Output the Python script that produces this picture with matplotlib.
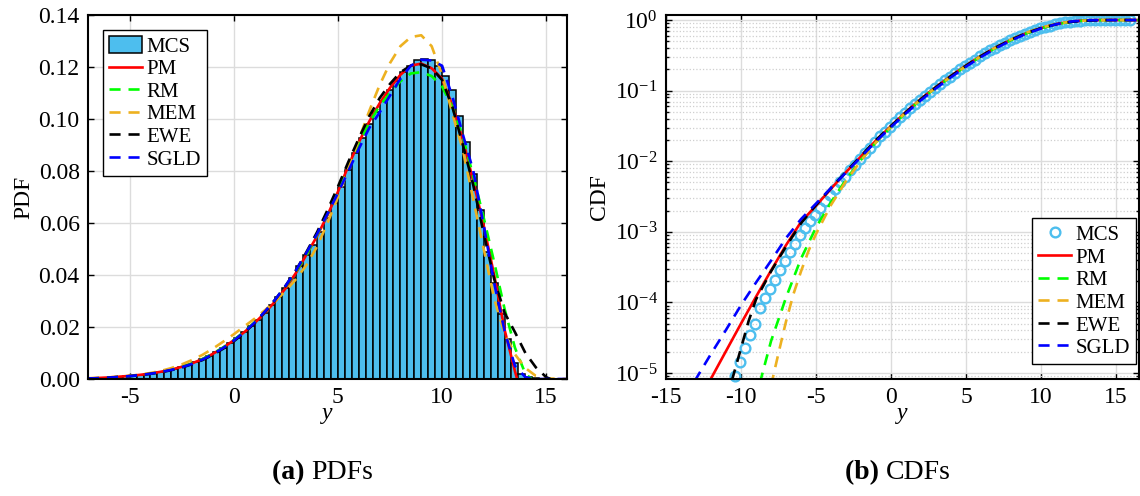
import numpy as np
import matplotlib.pyplot as plt
from matplotlib.ticker import LogLocator, NullFormatter, FormatStrFormatter

plt.rcParams['font.family'] = 'Liberation Serif'
plt.rcParams['mathtext.fontset'] = 'custom'
plt.rcParams['mathtext.rm'] = 'Liberation Serif'
plt.rcParams['mathtext.it'] = 'Liberation Serif:italic'
plt.rcParams['mathtext.bf'] = 'Liberation Serif:bold'
plt.rcParams['axes.unicode_minus'] = False

# ---- (a) PDF data ----
# MCS histogram, bins of width 1/3 starting at y = -7
hist_start = -7.0
hist_width = 1.0 / 3.0
mcs_pdf = [0.0002, 0.0004, 0.0005, 0.0007, 0.0009, 0.0011, 0.0013, 0.0016, 0.0019, 0.0023,
           0.0028, 0.0033, 0.0040, 0.0047, 0.0055, 0.0066, 0.0077, 0.0090, 0.0105, 0.0121,
           0.0139, 0.0159, 0.0180, 0.0203, 0.0228, 0.0255, 0.0284, 0.0316, 0.0350, 0.0390,
           0.0433, 0.0478, 0.0515, 0.0565, 0.0618, 0.0675, 0.0740, 0.0805, 0.0868, 0.0925,
           0.0980, 0.1028, 0.1070, 0.1112, 0.1148, 0.1180, 0.1205, 0.1225, 0.1232, 0.1225,
           0.1205, 0.1165, 0.1110, 0.1010, 0.0910, 0.0790, 0.0650, 0.0490, 0.0370, 0.0250,
           0.0153, 0.0060, 0.0020, 0.0008, 0.0003, 0.0001]

pdf_x = [-7, -6.5, -6, -5.5, -5, -4.5, -4, -3.5, -3, -2.5, -2, -1.5, -1, -0.5, 0, 0.5, 1, 1.5,
         2, 2.5, 3, 3.5, 4, 4.5, 5, 5.5, 6, 6.5, 7, 7.5, 8, 8.5, 9, 9.5, 10, 10.5, 11, 11.5,
         12, 12.5, 13, 13.5]

pm_pdf = [0.0002, 0.0004, 0.0006, 0.0009, 0.0012, 0.0016, 0.0021, 0.0028, 0.0036, 0.0047,
          0.0060, 0.0077, 0.0097, 0.0121, 0.0149, 0.0180, 0.0215, 0.0255, 0.0300, 0.0350,
          0.0410, 0.0480, 0.0550, 0.0630, 0.0720, 0.0820, 0.0910, 0.0990, 0.1060, 0.1120,
          0.1170, 0.1205, 0.1213, 0.1195, 0.1155, 0.1050, 0.0920, 0.0760, 0.0590, 0.0400,
          0.0190, 0.0030]
pm_pdf_end = (13.6, 0.0)

rm_pdf = [0.0002, 0.0003, 0.0005, 0.0008, 0.0011, 0.0015, 0.0020, 0.0027, 0.0036, 0.0047,
          0.0060, 0.0077, 0.0098, 0.0122, 0.0150, 0.0182, 0.0218, 0.0259, 0.0305, 0.0357,
          0.0415, 0.0480, 0.0555, 0.0635, 0.0720, 0.0815, 0.0905, 0.0985, 0.1050, 0.1100,
          0.1145, 0.1175, 0.1180, 0.1165, 0.1125, 0.1045, 0.0930, 0.0780, 0.0620, 0.0450,
          0.0270, 0.0120]
rm_pdf_tail_x = [14.0, 14.3]
rm_pdf_tail = [0.0020, 0.0]

mem_pdf = [0.0003, 0.0004, 0.0006, 0.0009, 0.0012, 0.0017, 0.0023, 0.0031, 0.0042, 0.0056,
           0.0073, 0.0093, 0.0117, 0.0144, 0.0172, 0.0202, 0.0232, 0.0265, 0.0300, 0.0340,
           0.0385, 0.0440, 0.0510, 0.0600, 0.0700, 0.0810, 0.0920, 0.1030, 0.1130, 0.1215,
           0.1280, 0.1315, 0.1322, 0.1280, 0.1170, 0.1020, 0.0880, 0.0690, 0.0500, 0.0310,
           0.0175, 0.0095]
mem_pdf_tail_x = [14.0, 14.5, 15.0, 16.0]
mem_pdf_tail = [0.0042, 0.0012, 0.0002, 0.0]

ewe_pdf = [0.0002, 0.0003, 0.0005, 0.0008, 0.0011, 0.0015, 0.0020, 0.0026, 0.0034, 0.0044,
           0.0057, 0.0073, 0.0093, 0.0117, 0.0145, 0.0178, 0.0215, 0.0258, 0.0306, 0.0360,
           0.0420, 0.0490, 0.0565, 0.0650, 0.0740, 0.0835, 0.0925, 0.1010, 0.1080, 0.1135,
           0.1180, 0.1205, 0.1210, 0.1195, 0.1150, 0.1045, 0.0900, 0.0745, 0.0560, 0.0385,
           0.0255, 0.0180]
ewe_pdf_tail_x = [14.0, 14.5, 15.0, 15.2]
ewe_pdf_tail = [0.0100, 0.0045, 0.0007, 0.0]

sgld_pdf = [0.0002, 0.0003, 0.0005, 0.0008, 0.0011, 0.0015, 0.0020, 0.0027, 0.0035, 0.0045,
            0.0058, 0.0075, 0.0095, 0.0120, 0.0148, 0.0180, 0.0217, 0.0260, 0.0307, 0.0360,
            0.0420, 0.0487, 0.0558, 0.0635, 0.0715, 0.0800, 0.0885, 0.0965, 0.1025, 0.1090,
            0.1155, 0.1205, 0.1228, 0.1225, 0.1205, 0.1085, 0.0940, 0.0800, 0.0590, 0.0370,
            0.0185, 0.0050]
sgld_pdf_tail_x = [14.0, 14.5, 16.0]
sgld_pdf_tail = [0.0007, 0.0, 0.0]

# ---- (b) CDF data ----
mcs_cdf_start = -10.4
mcs_cdf = [8.9e-6, 1.45e-5, 2.24e-5, 3.39e-5, 5.0e-5, 8.3e-5, 1.15e-4, 1.55e-4, 2.09e-4, 2.88e-4,
           3.89e-4, 5.13e-4, 6.76e-4, 8.9e-4, 1.12e-3, 1.41e-3, 1.74e-3, 2.14e-3, 2.69e-3, 3.31e-3,
           4.07e-3, 5.01e-3, 6.03e-3, 7.41e-3, 8.91e-3, 0.0107, 0.0129, 0.0155, 0.0186, 0.0224,
           0.0263, 0.0309, 0.0363, 0.0417, 0.0484, 0.0562, 0.0646, 0.0741, 0.0851, 0.0966,
           0.110, 0.124, 0.140, 0.158, 0.178, 0.200, 0.224, 0.248, 0.275, 0.305,
           0.339, 0.372, 0.406, 0.442, 0.479, 0.519, 0.558, 0.600, 0.640, 0.681,
           0.721, 0.762, 0.800, 0.836, 0.869, 0.900, 0.927, 0.951, 0.968, 0.982,
           0.991, 0.995, 0.998, 1.0, 1.0, 1.0, 1.0, 1.0, 1.0, 1.0]

pm_cdf_x = [-12.1, -11, -10, -9, -8, -7, -6, -5, -4, -3, -2, -1, 0, 1, 2, 3, 4, 5, 6, 7, 8, 9,
            10, 11, 12, 13, 14, 16.5]
pm_cdf = [7.6e-6, 2.04e-5, 5.0e-5, 1.2e-4, 2.82e-4, 6.46e-4, 1.38e-3, 2.34e-3, 4.07e-3, 7.0e-3,
          0.0117, 0.0197, 0.0316, 0.0501, 0.0767, 0.113, 0.162, 0.228, 0.311, 0.412, 0.526,
          0.649, 0.769, 0.876, 0.954, 0.993, 1.0, 1.0]

rm_cdf_x = [-8.75, -8, -7, -6, -5, -4, -3, -2, -1, 0, 1, 2, 3, 4, 5, 6, 7, 8, 9, 10, 11, 12,
            13, 14, 15, 16.5]
rm_cdf = [7.1e-6, 2.82e-5, 1.17e-4, 4.17e-4, 1.15e-3, 2.63e-3, 5.5e-3, 0.0105, 0.0186, 0.0305,
          0.0490, 0.075, 0.111, 0.158, 0.224, 0.307, 0.407, 0.521, 0.644, 0.764, 0.871, 0.946,
          0.986, 0.998, 1.0, 1.0]

mem_cdf_x = [-8.0, -7.5, -7, -6.5, -6, -5.5, -5, -4, -3, -2, -1, 0, 1, 2, 3, 4, 5, 6, 7, 8, 9,
             10, 11, 12, 13, 14, 15, 16.5]
mem_cdf = [6.6e-6, 1.91e-5, 5.37e-5, 1.32e-4, 2.75e-4, 5.37e-4, 9.33e-4, 2.40e-3, 5.25e-3,
           0.0102, 0.0186, 0.0309, 0.0495, 0.0759, 0.111, 0.158, 0.223, 0.308, 0.412, 0.533,
           0.661, 0.782, 0.881, 0.951, 0.984, 0.995, 1.0, 1.0]

ewe_cdf_x = [-10.6, -10, -9.5, -9, -8, -7, -6, -5, -4, -3, -2, -1, 0, 1, 2, 3, 4, 5, 6, 7, 8,
             9, 10, 11, 12, 13, 14, 15, 16.5]
ewe_cdf = [7.9e-6, 2.24e-5, 5.37e-5, 1.10e-4, 2.75e-4, 6.17e-4, 1.32e-3, 2.40e-3, 4.17e-3,
           7.08e-3, 0.0119, 0.020, 0.0316, 0.0495, 0.0759, 0.112, 0.161, 0.226, 0.310, 0.412,
           0.527, 0.652, 0.771, 0.871, 0.942, 0.979, 0.995, 1.0, 1.0]

sgld_cdf_x = [-13.1, -12, -11, -10, -9, -8, -7, -6, -5, -4, -3, -2, -1, 0, 1, 2, 3, 4, 5, 6, 7,
              8, 9, 10, 11, 12, 13, 14, 16.5]
sgld_cdf = [7.6e-6, 1.86e-5, 4.07e-5, 9.12e-5, 1.91e-4, 3.89e-4, 8.13e-4, 1.51e-3, 2.51e-3,
            4.17e-3, 6.92e-3, 0.0115, 0.0191, 0.0305, 0.0479, 0.0733, 0.108, 0.155, 0.219,
            0.300, 0.400, 0.514, 0.637, 0.760, 0.871, 0.953, 0.991, 1.0, 1.0]

labels = ['MCS', 'PM', 'RM', 'MEM', 'EWE', 'SGLD']
mcs_color = '#4DBEEE'
colors = {'PM': '#FF0000', 'RM': '#00FF00', 'MEM': '#EDB120', 'EWE': '#000000', 'SGLD': '#0000FF'}
dash = (4.2, 3.0)
lw = 1.9
fs = 17
leg_fs = 15
grid_c = '#DCDCDC'


def style_axes(ax):
    for s in ax.spines.values():
        s.set_linewidth(1.5)
    ax.tick_params(which='both', direction='in', top=True, right=True, labelsize=fs, width=1.0)
    ax.tick_params(which='major', length=4, pad=6)
    ax.tick_params(which='minor', length=2)
    ax.set_axisbelow(True)


def make_legend(ax, handles, **kw):
    leg = ax.legend(handles, labels, borderaxespad=0, fontsize=leg_fs, fancybox=False,
                    edgecolor='black', framealpha=1, handlelength=1.6, handleheight=0.85,
                    handletextpad=0.2, labelspacing=0.1, borderpad=0.3, **kw)
    leg.get_frame().set_linewidth(1.0)
    return leg


fig = plt.figure(figsize=(11.4, 4.96), dpi=100)
ax1 = fig.add_axes([0.0772, 0.2359, 0.4202, 0.7339])
ax2 = fig.add_axes([0.5842, 0.2359, 0.4146, 0.7339])

# (a) PDFs
lefts = hist_start + hist_width * np.arange(len(mcs_pdf))
bars = ax1.bar(lefts, mcs_pdf, width=hist_width, align='edge', color=mcs_color,
               edgecolor='black', linewidth=1.1)
h = [bars]
h += ax1.plot(pdf_x + [pm_pdf_end[0]], pm_pdf + [pm_pdf_end[1]], color=colors['PM'], lw=lw)
h += ax1.plot(pdf_x + rm_pdf_tail_x, rm_pdf + rm_pdf_tail, color=colors['RM'], lw=lw, dashes=dash)
h += ax1.plot(pdf_x + mem_pdf_tail_x, mem_pdf + mem_pdf_tail, color=colors['MEM'], lw=lw,
              dashes=dash)
h += ax1.plot(pdf_x + ewe_pdf_tail_x, ewe_pdf + ewe_pdf_tail, color=colors['EWE'], lw=lw,
              dashes=dash)
h += ax1.plot(pdf_x + sgld_pdf_tail_x, sgld_pdf + sgld_pdf_tail, color=colors['SGLD'], lw=lw,
              dashes=dash)

ax1.set_xlim(-7, 16)
ax1.set_ylim(0, 0.14)
ax1.set_xticks([-5, 0, 5, 10, 15])
ax1.set_yticks(np.arange(0, 0.141, 0.02))
ax1.yaxis.set_major_formatter(FormatStrFormatter('%.2f'))
ax1.grid(True, color=grid_c, lw=1.0)
style_axes(ax1)
ax1.set_xlabel('y', fontsize=fs, style='italic', labelpad=-4)
ax1.set_ylabel('PDF', fontsize=fs, labelpad=3)
make_legend(ax1, h, loc='upper left', bbox_to_anchor=(0.031, 0.959))

# (b) CDFs
mcs_x = mcs_cdf_start + np.arange(len(mcs_cdf)) / 3.0
h2 = ax2.plot(mcs_x, mcs_cdf, 'o', ms=7, mfc='none', mec=mcs_color, mew=1.7, clip_on=False)
h2 += ax2.plot(pm_cdf_x, pm_cdf, color=colors['PM'], lw=lw)
h2 += ax2.plot(rm_cdf_x, rm_cdf, color=colors['RM'], lw=lw, dashes=dash)
h2 += ax2.plot(mem_cdf_x, mem_cdf, color=colors['MEM'], lw=lw, dashes=dash)
h2 += ax2.plot(ewe_cdf_x, ewe_cdf, color=colors['EWE'], lw=lw, dashes=dash)
h2 += ax2.plot(sgld_cdf_x, sgld_cdf, color=colors['SGLD'], lw=lw, dashes=dash)

ax2.set_yscale('log')
ax2.set_xlim(-15, 16.5)
ax2.set_ylim(8.2e-6, 1.18)
ax2.set_xticks([-15, -10, -5, 0, 5, 10, 15])
ax2.yaxis.set_major_locator(LogLocator(base=10, numticks=12))
ax2.yaxis.set_minor_locator(LogLocator(base=10, subs=np.arange(2, 10), numticks=12))
ax2.yaxis.set_minor_formatter(NullFormatter())
ax2.grid(True, which='major', color=grid_c, lw=1.0)
ax2.grid(True, which='minor', axis='y', color='#CFCFCF', lw=0.9, ls=':')
style_axes(ax2)
ax2.set_xlabel('y', fontsize=fs, style='italic', labelpad=-4)
ax2.set_ylabel('CDF', fontsize=fs, labelpad=3)
make_legend(ax2, h2, loc='lower right', bbox_to_anchor=(0.995, 0.04), numpoints=1)

# captions
for ax, tag, word in [(ax1, '(a)', 'PDFs'), (ax2, '(b)', 'CDFs')]:
    box = ax.get_position()
    cx = (box.x0 + box.x1) / 2 - 0.014
    fig.text(cx, 0.035, tag + ' ', fontsize=20, fontweight='bold', ha='right', va='baseline')
    fig.text(cx, 0.035, word, fontsize=20, ha='left', va='baseline')

fig.savefig('out.png', dpi=100)
